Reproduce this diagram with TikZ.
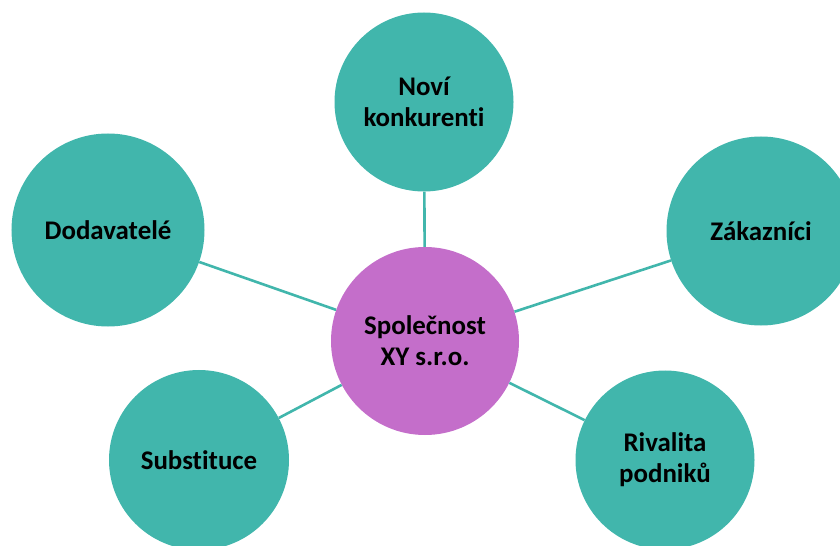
\documentclass[tikz,border=0pt]{standalone}
\usepackage{fontspec}
\setmainfont[Ligatures=NoCommon]{Carlito}
\definecolor{tealc}{RGB}{65,182,172}
\definecolor{pinkc}{RGB}{196,110,202}
\begin{document}
\begin{tikzpicture}[x=1bp,y=-1bp,
  bubble/.style={circle, fill=tealc, inner sep=0pt, align=center,
    font=\fontsize{27}{31}\selectfont\bfseries},
  hub/.style={bubble, fill=pinkc},
  link/.style={draw=tealc, line width=2.6bp}]
\clip (0,0) rectangle (840,546);
\useasboundingbox (0,0) rectangle (840,546);
\node[hub, minimum size=188bp] (c) at (425,341) {Společnost\\XY s.r.o.};
\node[bubble, minimum size=179bp] (n) at (424,102) {Noví\\konkurenti};
\node[bubble, minimum size=193bp] (d) at (108,230) {Dodavatelé};
\node[bubble, minimum size=189bp] (z) at (761,231) {Zákazníci};
\node[bubble, minimum size=180bp] (s) at (199,460) {Substituce};
\node[bubble, minimum size=179bp] (r) at (665,460) {Rivalita\\podniků};
\draw[link] (n) -- (c);
\draw[link] (d) -- (c);
\draw[link] (z) -- (c);
\draw[link] (s) -- (c);
\draw[link] (r) -- (c);
\end{tikzpicture}
\end{document}
